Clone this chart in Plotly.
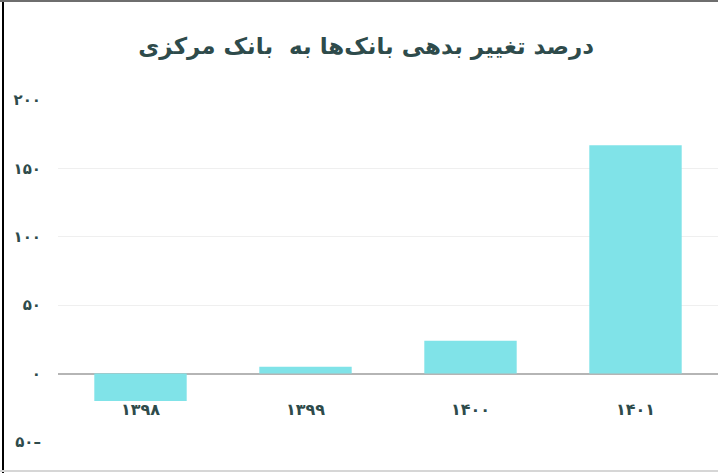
import plotly.graph_objects as go

categories = ["۱۳۹۸", "۱۳۹۹", "۱۴۰۰", "۱۴۰۱"]
values = [-20, 5, 24, 167]
y_tick_values = [-50, 0, 50, 100, 150, 200]
y_tick_labels = ["۵۰–", "۰", "۵۰", "۱۰۰", "۱۵۰", "۲۰۰"]
title_text = "درصد تغییر بدهی بانک‌ها به  بانک مرکزی"

W, H = 718, 473
ml, mr, mt, mb = 58, 0, 100, 31
pw, ph = W - ml - mr, H - mt - mb

def px_x(p):
    return (p - ml) / pw

def px_y(p):
    return (H - mb - p) / ph

font_color = "#2E4B4B"

fig = go.Figure(
    go.Bar(
        x=categories,
        y=values,
        marker=dict(color="#80E3E8", line=dict(width=0)),
        width=0.56,
    )
)

fig.update_layout(
    width=W,
    height=H,
    margin=dict(l=ml, r=mr, t=mt, b=mb),
    paper_bgcolor="white",
    plot_bgcolor="white",
    showlegend=False,
    title=dict(
        text="<b>" + title_text + "</b>",
        x=0.51,
        xanchor="center",
        y=1 - 46 / H,
        yanchor="middle",
        font=dict(family="DejaVu Sans", size=23, color=font_color),
    ),
    font=dict(family="DejaVu Sans", color=font_color),
    xaxis=dict(
        type="category",
        range=[-0.5, 3.5],
        anchor="free",
        position=0.2,
        showgrid=False,
        showline=False,
        zeroline=False,
        ticks="",
        ticklabelstandoff=24,
        tickvals=categories,
        ticktext=["<b>" + c + "</b>" for c in categories],
        tickfont=dict(family="DejaVu Sans", size=16, color=font_color),
    ),
    yaxis=dict(
        range=[-50, 200],
        tickvals=y_tick_values,
        ticktext=["<b>" + t + "</b>" for t in y_tick_labels],
        showgrid=True,
        gridcolor="#EFEFEF",
        gridwidth=1,
        zeroline=True,
        zerolinecolor="#B5B5B5",
        zerolinewidth=2,
        showline=False,
        ticks="",
        ticklabelstandoff=16,
        tickfont=dict(family="DejaVu Sans", size=15, color=font_color),
    ),
    shapes=[
        dict(type="line", xref="paper", yref="paper",
             x0=px_x(3), x1=px_x(3), y0=px_y(0), y1=px_y(473),
             line=dict(color="black", width=2)),
        dict(type="line", xref="paper", yref="paper",
             x0=px_x(0), x1=px_x(718), y0=px_y(1), y1=px_y(1),
             line=dict(color="#6E6E6E", width=2)),
        dict(type="line", xref="paper", yref="paper",
             x0=px_x(0), x1=px_x(718), y0=px_y(471), y1=px_y(471),
             line=dict(color="#D6D6D6", width=2)),
    ],
)

fig.write_html(
    "out.html",
    config={"displayModeBar": False},
    post_script="document.body.style.margin='0';document.body.style.overflow='hidden';",
)
